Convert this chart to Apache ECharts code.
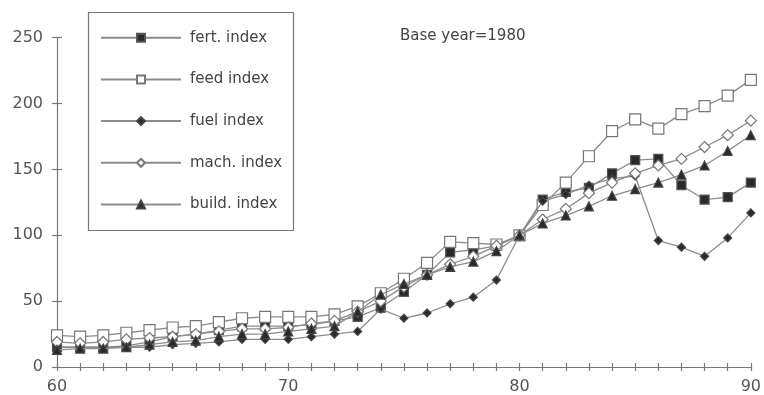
<!DOCTYPE html>
<html>
<head>
<meta charset="utf-8">
<script src="https://cdn.jsdelivr.net/npm/echarts@6/dist/echarts.min.js"></script>
<style>
html,body{margin:0;padding:0;background:#fff;}
#chart{width:764px;height:395px;}
</style>
</head>
<body>
<div id="chart"></div>
<script>
var years = [60,61,62,63,64,65,66,67,68,69,70,71,72,73,74,75,76,77,78,79,80,81,82,83,84,85,86,87,88,89,90];
var fertIndex  = [15,15,15,16,19,23,25,28,31,31,31,32,35,38,45,57,70,87,89,92,100,127,133,136,147,157,158,138,127,129,140];
var feedIndex  = [24,23,24,26,28,30,31,34,37,38,38,38,40,46,56,67,79,95,94,93,100,123,140,160,179,188,181,192,198,206,218];
var fuelIndex  = [15,15,15,15,15,17,18,19,21,21,21,23,25,27,44,37,41,48,53,66,100,126,131,138,143,145,96,91,84,98,117];
var machIndex  = [19,18,19,21,22,23,25,27,29,29,30,33,35,42,50,61,70,78,84,92,100,112,120,132,140,147,153,158,167,176,187];
var buildIndex = [13,14,14,15,17,19,20,23,25,25,27,29,31,42,55,63,70,76,80,88,100,109,115,122,130,135,140,146,153,164,176];
var seriesNames = ['fert. index','feed index','fuel index','mach. index','build. index'];
var yTicks = [0,50,100,150,200,250];
var xTickLabels = [60,70,80,90];
var noteText = 'Base year=1980';

function pairs(vals){ return years.map(function(y,i){ return [y, vals[i]]; }); }

var lineCol = '#8c8c8c';
var darkCol = '#2a2a2a';
var font = '"DejaVu Sans", "Liberation Sans", Arial, sans-serif';

var styles = [
  {data: fertIndex,  symbol: 'rect', size: 9, fill: darkCol, border: '#555'},
  {data: feedIndex,  symbol: 'rect', size: 11, fill: '#ffffff', border: '#777'},
  {data: fuelIndex,  symbol: 'diamond', size: 8, fill: darkCol, border: '#444'},
  {data: machIndex,  symbol: 'diamond', size: 11, fill: '#ffffff', border: '#777'},
  {data: buildIndex, symbol: 'triangle', size: 9, fill: darkCol, border: '#444'}
];

var series = styles.map(function(s, i){
  return {
    name: seriesNames[i],
    type: 'line',
    xAxisIndex: 0, yAxisIndex: 0,
    data: pairs(s.data),
    symbol: s.symbol,
    symbolSize: s.size,
    showAllSymbol: true,
    lineStyle: {color: lineCol, width: 1.3},
    itemStyle: {color: s.fill, borderColor: s.border, borderWidth: 1.2},
    emphasis: {disabled: true},
    animation: false,
    z: 2 + (i === 1 ? 0 : i)
  };
});

var chart = echarts.init(document.getElementById('chart'));
chart.setOption({
  animation: false,
  backgroundColor: '#ffffff',
  grid: {left: 57, right: 12.4, top: 37.7, bottom: 27, containLabel: false},
  xAxis: [
    {type: 'value', min: 60, max: 90, interval: 1, position: 'bottom',
     axisLine: {lineStyle: {color: '#777', width: 1.2}},
     axisTick: {show: true, inside: false, length: 4, lineStyle: {color: '#777', width: 1.2}},
     axisLabel: {color: '#555', fontSize: 16, fontFamily: font, margin: 12,
       formatter: function(v){ return xTickLabels.indexOf(v) >= 0 ? String(v) : ''; }},
     splitLine: {show: false}},
    {type: 'value', min: 60, max: 90, interval: 1, position: 'bottom',
     axisLine: {show: false},
     axisTick: {show: true, inside: true, length: 4, lineStyle: {color: '#777', width: 1.2}},
     axisLabel: {show: false}, splitLine: {show: false}}
  ],
  yAxis: [
    {type: 'value', min: 0, max: 250, interval: 50, position: 'left',
     axisLine: {show: true, lineStyle: {color: '#777', width: 1.2}},
     axisTick: {show: true, inside: false, length: 5, lineStyle: {color: '#777', width: 1.2}},
     axisLabel: {color: '#555', fontSize: 16, fontFamily: font, margin: 14,
       formatter: function(v){ return yTicks.indexOf(v) >= 0 ? String(v) : ''; }},
     splitLine: {show: false}},
    {type: 'value', min: 0, max: 250, interval: 50, position: 'left',
     axisLine: {show: false},
     axisTick: {show: true, inside: true, length: 5, lineStyle: {color: '#777', width: 1.2}},
     axisLabel: {show: false}, splitLine: {show: false}}
  ],
  legend: {
    orient: 'vertical',
    left: 100, top: 30.2,
    padding: 0,
    itemWidth: 80, itemHeight: 10,
    itemGap: 26.7,
    textStyle: {color: '#444', fontSize: 15, lineHeight: 15, fontFamily: font, padding: [0,0,0,4]},
    data: seriesNames,
    selectedMode: false
  },
  graphic: [
    {type: 'rect', shape: {x: 88.5, y: 12.5, width: 205, height: 218},
     style: {fill: 'none', stroke: '#777', lineWidth: 1.2}, z: 0},
    {type: 'text', left: 400, top: 29,
     style: {text: noteText, fill: '#444', font: '15px ' + font}}
  ],
  series: series
});
</script>
</body>
</html>
